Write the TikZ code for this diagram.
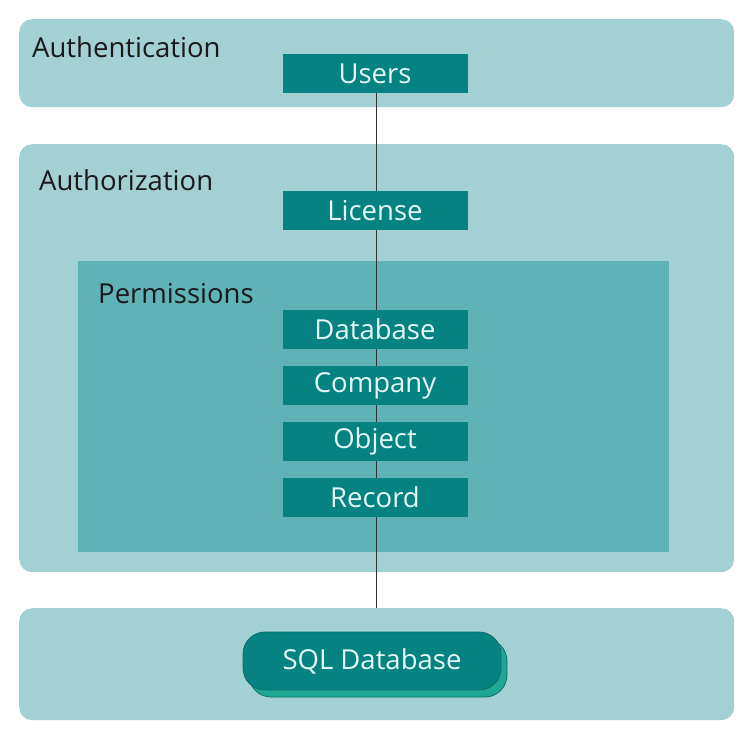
\documentclass[tikz,border=0pt]{standalone}
\usepackage{fontspec}
\setmainfont{Open Sans}
\usetikzlibrary{shadows}
\definecolor{panelc}{HTML}{A2D0D3}
\definecolor{permc}{HTML}{5FB2B6}
\definecolor{boxc}{HTML}{068282}
\definecolor{boxtext}{HTML}{E4F7F7}
\definecolor{labeltext}{HTML}{1A1A1A}
\definecolor{shadowc}{HTML}{1EA894}
\definecolor{shadowline}{HTML}{0E6F68}
\pgfdeclarelayer{back}
\pgfdeclarelayer{lines}
\pgfsetlayers{back,lines,main}
\tikzset{
  panel/.style={fill=panelc, draw=none, rounded corners=13pt, inner sep=0pt, anchor=north west, minimum width=715pt},
  permpanel/.style={fill=permc, draw=none, inner sep=0pt, anchor=north west},
  lbl/.style={anchor=base west, inner sep=0pt, text=labeltext, font=\fontsize{27.5}{32}\selectfont},
  stepbox/.style={fill=boxc, draw=none, inner sep=0pt, minimum width=185pt, minimum height=39pt, text=boxtext, font=\fontsize{27.5}{32}\selectfont},
  link/.style={draw=black!80, line width=0.8pt},
}
\begin{document}
\begin{tikzpicture}[x=1pt,y=-1pt]
\useasboundingbox (0,0) rectangle (749,737);
\begin{pgfonlayer}{back}
\node[panel, minimum height=88pt] (authn) at (19,19) {};
\node[panel, minimum height=428pt] (authz) at (19,144) {};
\node[permpanel, minimum width=591pt, minimum height=291pt] (perm) at (78,261) {};
\node[panel, minimum height=112pt] (storage) at (19,608) {};
\end{pgfonlayer}
\node[lbl] (lauthn) at (32,57) {Authentication};
\node[lbl] (lauthz) at (39,190) {Authorization};
\node[lbl] (lperm) at (98,303) {Permissions};
\node[stepbox] (users) at (375,73.5) {Users};
\node[stepbox] (license) at (375,210.5) {License};
\node[stepbox] (database) at (375,329.5) {Database};
\node[stepbox] (company) at (375,385.5) {Company};
\node[stepbox] (object) at (375,441.5) {Object};
\node[stepbox] (record) at (375,497.5) {Record};
\node[fill=boxc, draw=shadowline, line width=0.8pt, rounded corners=22pt, minimum width=258pt, minimum height=58pt, inner sep=0pt, text=boxtext, font=\fontsize{27.5}{32}\selectfont,
  copy shadow={shadow xshift=6pt, shadow yshift=-7pt, fill=shadowc, draw=shadowline, line width=0.8pt}] (sql) at (372,661) {SQL Database};
\begin{pgfonlayer}{lines}
\coordinate (linebot) at (376,608);
\draw[link] (users.south -| linebot) -- (linebot);
\end{pgfonlayer}
\end{tikzpicture}
\end{document}
